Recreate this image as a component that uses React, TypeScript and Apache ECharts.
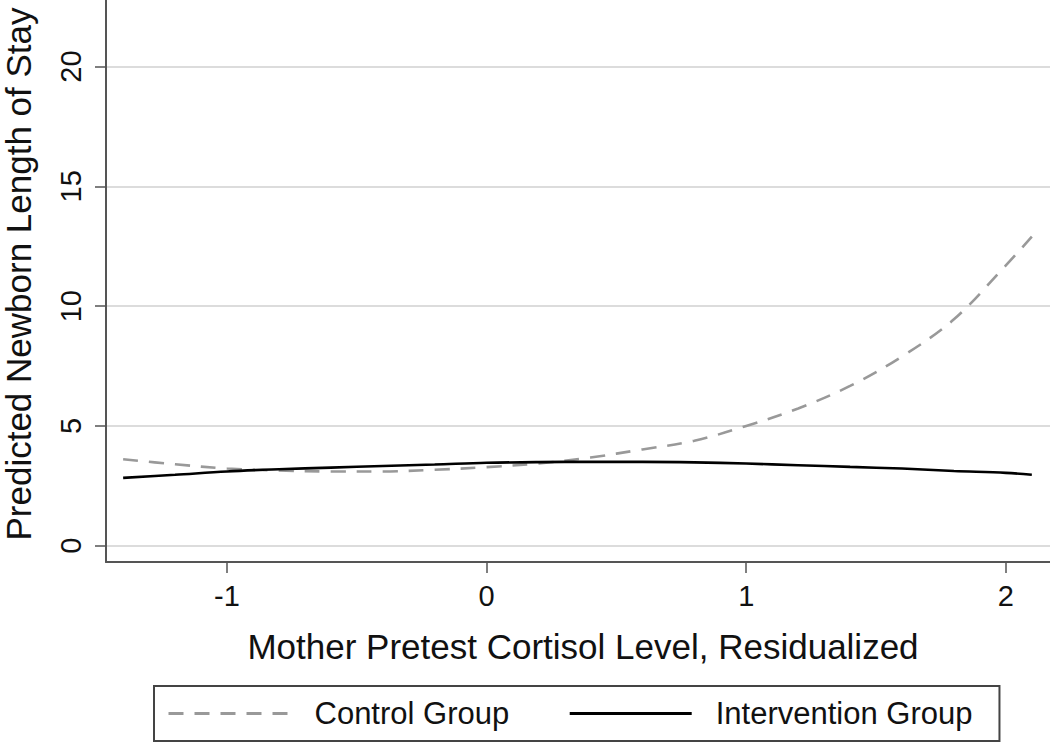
import React, { useEffect, useRef } from "react";
import * as echarts from "echarts";

// Residualized cortisol values (x) at which both predicted curves are read
const xValues = [-1.4, -1.2, -1.0, -0.8, -0.6, -0.4, -0.2, 0, 0.2, 0.4, 0.6, 0.8, 1.0, 1.2, 1.4, 1.6, 1.8, 2.0, 2.1];
// Predicted newborn length of stay
const controlValues = [3.61, 3.40, 3.22, 3.14, 3.10, 3.10, 3.17, 3.28, 3.43, 3.68, 4.02, 4.38, 5.0, 5.73, 6.67, 7.9, 9.45, 11.7, 12.9];
const interventionValues = [2.83, 2.96, 3.10, 3.19, 3.26, 3.33, 3.39, 3.46, 3.49, 3.50, 3.50, 3.48, 3.43, 3.36, 3.29, 3.22, 3.12, 3.04, 2.96];

const xTicks = [-1, 0, 1, 2];
const yTicks = [0, 5, 10, 15, 20];
const seriesNames = ["Control Group", "Intervention Group"];
const xTitle = "Mother Pretest Cortisol Level, Residualized";
const yTitle = "Predicted Newborn Length of Stay";

export default function App() {
  const ref = useRef<HTMLDivElement>(null);

  useEffect(() => {
    if (!ref.current) return;
    const chart = echarts.init(ref.current, null, { renderer: "svg" });
    const font = "'Liberation Sans', Arial, Helvetica, sans-serif";
    const axisColor = "#555555";

    chart.setOption({
      animation: false,
      textStyle: { fontFamily: font },
      grid: { left: 106, right: 0, top: 0, bottom: 184, containLabel: false },
      xAxis: {
        type: "value",
        min: -1.466,
        max: 2.17,
        axisLine: { show: true, onZero: false, lineStyle: { color: axisColor, width: 2 } },
        axisTick: { show: true, customValues: xTicks, length: 11, lineStyle: { color: axisColor, width: 1.5 } },
        axisLabel: { show: true, customValues: xTicks, fontSize: 29, color: "#111", margin: 19, fontFamily: font },
        splitLine: { show: false },
      },
      yAxis: {
        type: "value",
        min: -0.68,
        max: 22.78,
        axisLine: { show: true, onZero: false, lineStyle: { color: axisColor, width: 2 } },
        axisTick: { show: true, customValues: yTicks, length: 11, lineStyle: { color: axisColor, width: 1.5 } },
        axisLabel: { show: true, customValues: yTicks, rotate: 90, fontSize: 29, color: "#111", margin: 21, fontFamily: font },
        splitLine: { show: true, lineStyle: { color: "#dcdcdc", width: 2 } },
      },
      legend: {
        left: 154,
        top: 686,
        orient: "horizontal",
        padding: [12, 27, 12, 13],
        itemWidth: 122,
        itemHeight: 20,
        itemGap: 59,
        borderColor: "#444",
        borderWidth: 2,
        borderRadius: 0,
        backgroundColor: "#fff",
        selectedMode: false,
        itemStyle: { opacity: 0, borderWidth: 0 },
        lineStyle: { width: 3 },
        textStyle: { fontSize: 31, color: "#111", fontFamily: font, padding: [0, 0, 0, 19] },
        data: seriesNames,
      },
      series: [
        {
          name: seriesNames[0],
          type: "line",
          data: xValues.map((x, i) => [x, controlValues[i]]),
          symbol: "none",
          smooth: 0.35,
          lineStyle: { color: "#999999", width: 2.6, type: [15, 11] },
          itemStyle: { color: "#999999" },
          z: 3,
        },
        {
          name: seriesNames[1],
          type: "line",
          data: xValues.map((x, i) => [x, interventionValues[i]]),
          symbol: "none",
          smooth: 0.35,
          lineStyle: { color: "#000000", width: 2.6, type: "solid" },
          itemStyle: { color: "#000000" },
          z: 4,
        },
      ],
      graphic: [
        {
          type: "text",
          x: 583,
          y: 646,
          style: {
            text: xTitle,
            fontSize: 35,
            fontFamily: font,
            fill: "#111",
            align: "center",
            verticalAlign: "middle",
          },
        },
        {
          type: "text",
          x: 18,
          y: 274,
          rotation: Math.PI / 2,
          style: {
            text: yTitle,
            fontSize: 35,
            fontFamily: font,
            fill: "#111",
            align: "center",
            verticalAlign: "middle",
          },
        },
      ],
    });

    return () => chart.dispose();
  }, []);

  return (
    <div
      ref={ref}
      style={{ position: "fixed", left: 0, top: 0, width: 1050, height: 746, background: "#fff" }}
    />
  );
}
